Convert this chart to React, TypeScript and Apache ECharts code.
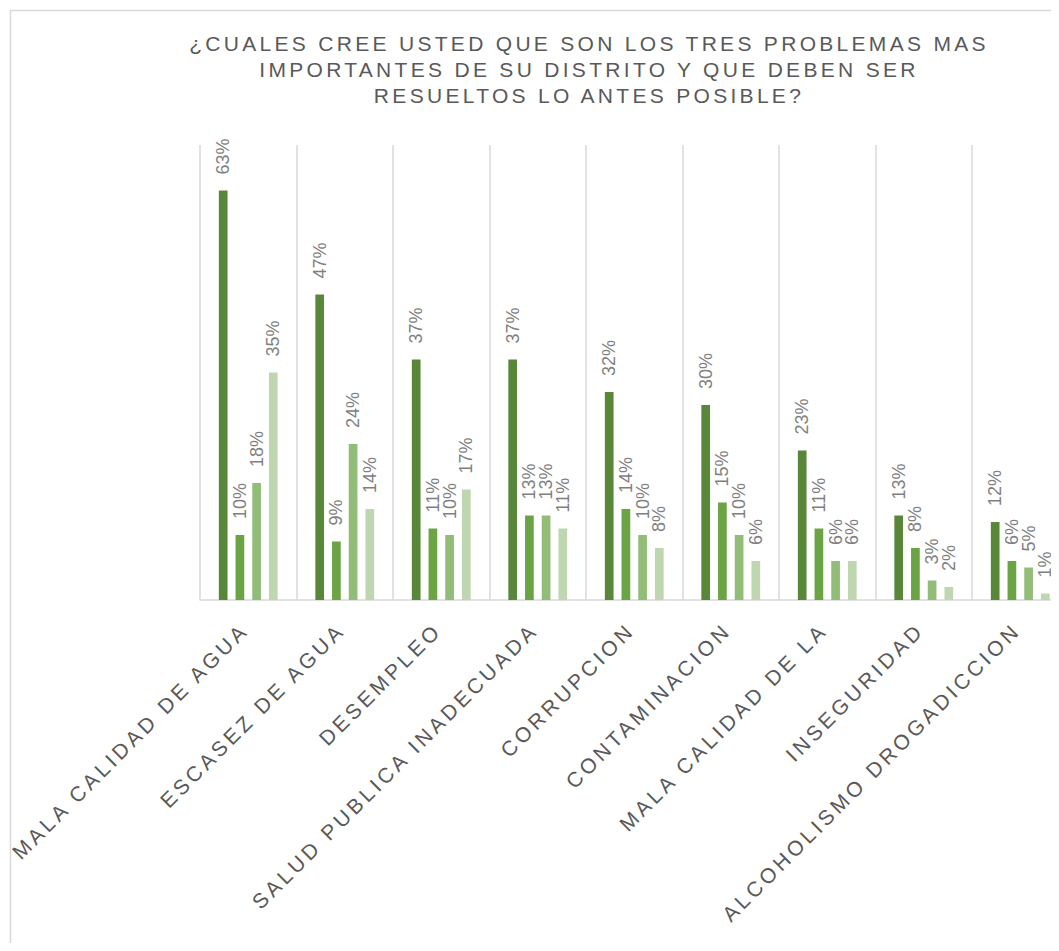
import React, { useEffect, useRef } from "react";
import * as echarts from "echarts";

const categories = [
  "MALA CALIDAD DE AGUA",
  "ESCASEZ DE AGUA",
  "DESEMPLEO",
  "SALUD PUBLICA INADECUADA",
  "CORRUPCION",
  "CONTAMINACION",
  "MALA CALIDAD DE LA",
  "INSEGURIDAD",
  "ALCOHOLISMO DROGADICCION",
];
const serie1 = [63, 47, 37, 37, 32, 30, 23, 13, 12];
const serie2 = [10, 9, 11, 13, 14, 15, 11, 8, 6];
const serie3 = [18, 24, 10, 13, 10, 10, 6, 3, 5];
const serie4 = [35, 14, 17, 11, 8, 6, 6, 2, 1];
const seriesNames = ["Serie 1", "Serie 2", "Serie 3", "Serie 4"];
const seriesColors = ["#58873A", "#6AA444", "#92BD79", "#BFD7B1"];
const titleLines = [
  "¿CUALES CREE USTED QUE SON LOS TRES PROBLEMAS MAS",
  "IMPORTANTES DE SU DISTRITO Y QUE DEBEN SER",
  "RESUELTOS LO ANTES POSIBLE?",
];

const FONT = "'Liberation Sans', Arial, sans-serif";

export default function App() {
  const ref = useRef<HTMLDivElement>(null);

  useEffect(() => {
    const el = ref.current;
    if (!el) return;
    const chart = echarts.init(el, undefined, { renderer: "svg" });
    const data = [serie1, serie2, serie3, serie4];

    chart.setOption({
      animation: false,
      backgroundColor: "#ffffff",
      title: {
        text: titleLines.join("\n"),
        left: 581,
        top: 22,
        padding: 0,
        textAlign: "center",
        textStyle: {
          fontFamily: FONT,
          fontSize: 21,
          fontWeight: "normal",
          color: "#595959",
          lineHeight: 26,
        },
      },
      graphic: [
        {
          type: "rect",
          left: 0,
          top: 0,
          shape: { x: 0.75, y: 1.75, width: 3000, height: 3000 },
          style: { fill: "none", stroke: "#d9d9d9", lineWidth: 1.5 },
          silent: true,
        },
      ],
      grid: {
        left: 192,
        width: 868.5,
        top: 137,
        height: 455,
        containLabel: false,
        outerBoundsMode: "none",
      },
      xAxis: {
        type: "category",
        data: categories,
        axisLine: { show: true, lineStyle: { color: "#d9d9d9", width: 1.5 } },
        axisTick: { show: false },
        splitLine: { show: true, interval: 0, lineStyle: { color: "#d9d9d9", width: 1.5 } },
        axisLabel: {
          interval: 0,
          rotate: 45,
          margin: 23,
          padding: [0, 5, 0, 0],
          fontFamily: FONT,
          fontSize: 21,
          color: "#595959",
        },
      },
      yAxis: { type: "value", min: 0, max: 70, show: false },
      series: data.map((d, i) => ({
        name: seriesNames[i],
        type: "bar",
        data: d,
        barWidth: 8.7,
        barGap: "92%",
        itemStyle: { color: seriesColors[i] },
        label: {
          show: true,
          position: "top",
          rotate: 90,
          align: "left",
          verticalAlign: "middle",
          distance: 16,
          formatter: "{c}%",
          fontFamily: FONT,
          fontSize: 18,
          color: "#7F7F7F",
        },
      })),
    });

    const applySpacing = () => {
      el.querySelectorAll("text").forEach((t) => {
        const s = t.textContent || "";
        if (titleLines.includes(s)) t.setAttribute("letter-spacing", "3.3");
        else if (categories.includes(s)) t.setAttribute("letter-spacing", "3.6");
      });
    };
    applySpacing();
    chart.on("finished", applySpacing);
    const raf = requestAnimationFrame(applySpacing);
    const tm = setTimeout(applySpacing, 50);

    return () => {
      cancelAnimationFrame(raf);
      clearTimeout(tm);
      chart.dispose();
    };
  }, []);

  return (
    <div
      ref={ref}
      style={{ width: 1051, height: 943, marginBottom: -8, overflow: "hidden" }}
    />
  );
}
